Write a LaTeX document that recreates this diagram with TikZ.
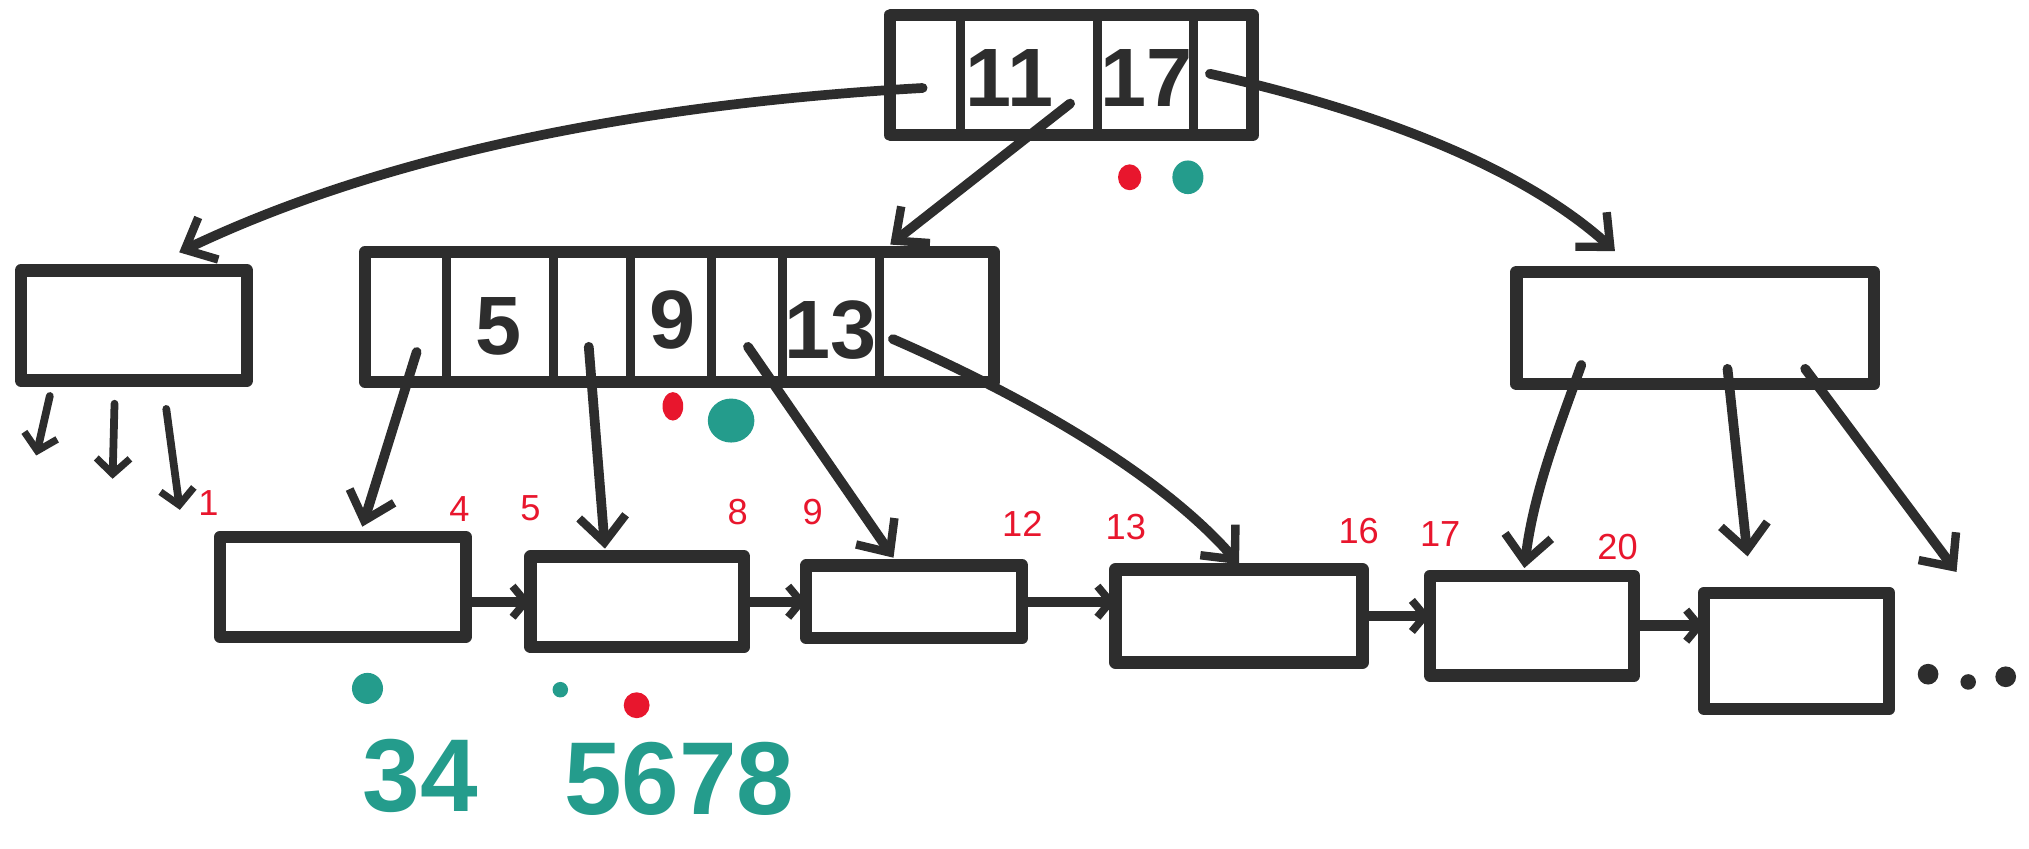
\documentclass[tikz,border=0pt]{standalone}
\usepackage{fontspec}
\setmainfont{Liberation Sans}
\usetikzlibrary{arrows.meta,calc}
\definecolor{ink}{RGB}{45,45,45}
\definecolor{redink}{RGB}{232,22,45}
\definecolor{tealink}{RGB}{36,156,140}
\begin{document}
\begin{tikzpicture}[x=1pt,y=-1pt,
  box/.style={draw=ink,line width=9.5pt,inner sep=0pt,outer sep=0pt,rectangle,line join=round},
  div/.style={draw=ink,line width=7pt},
  arr/.style={draw=ink,line width=7.5pt,line cap=round,-{Straight Barb[length=20pt,width=36pt,line width=6.5pt]}},
  sarr/.style={draw=ink,line width=6pt,line cap=round,-{Straight Barb[length=12pt,width=26pt,line width=5.5pt]}},
  link/.style={draw=ink,line width=8pt,-{Straight Barb[length=10pt,width=24pt,line width=6pt]}},
  key/.style={text=ink,font=\fontsize{64}{68}\selectfont\bfseries,inner sep=0pt},
  lab/.style={text=redink,font=\fontsize{28}{30}\selectfont,inner sep=0pt},
  note/.style={text=tealink,font=\fontsize{80}{84}\selectfont\bfseries,inner sep=0pt},
]
\useasboundingbox (0,0) rectangle (1568,656);

% root
\node[box,minimum width=280pt,minimum height=93pt] (root) at (828,58) {};
\foreach \x in {742,848,922} \draw[div] (\x,0 |- root.north) -- (\x,0 |- root.south);
\node[key] (k11) at (780,60) {11};
\node[key] (k17) at (886,60) {17};
\coordinate (rL) at (713,68);
\coordinate (rM) at (827,80);
\coordinate (rR) at (935,57);

% internal level
\node[box,minimum width=175pt,minimum height=85pt] (left) at (103.5,251.5) {};
\node[box,minimum width=486pt,minimum height=100pt] (mid) at (525,245) {};
\foreach \x in {345,428,487,550,605,680} \draw[div] (\x,0 |- mid.north) -- (\x,0 |- mid.south);
\node[key] (k5) at (385,252) {5};
\node[key] (k9) at (520,247) {9};
\node[key] (k13) at (642,255) {13};
\coordinate (m1) at (322,272);
\coordinate (m2) at (455,268);
\coordinate (m3) at (578,268);
\coordinate (m4) at (690,262);
\node[box,minimum width=276pt,minimum height=87pt] (right) at (1310,253.5) {};
\coordinate (n1) at (1222,282);
\coordinate (n2) at (1335,285);
\coordinate (n3) at (1395,285);
\coordinate (e3) at (1512,442);

% leaves
\node[box,minimum width=190pt,minimum height=77pt] (L1) at (265,453.5) {};
\node[box,minimum width=165pt,minimum height=70pt] (L2) at (492.5,465) {};
\node[box,minimum width=167pt,minimum height=56pt] (L3) at (706.5,465) {};
\node[box,minimum width=191pt,minimum height=72pt] (L4) at (957.5,476) {};
\node[box,minimum width=158pt,minimum height=77pt] (L5) at (1184,483.5) {};
\node[box,minimum width=143pt,minimum height=90pt] (L6) at (1388.5,503) {};

% root pointers
\draw[arr] (rL) .. controls (500,80) and (300,118) .. ([xshift=35pt,yshift=14pt]left.north);
\draw[arr] (rM) -- ([xshift=-80pt,yshift=6pt]mid.north east);
\draw[arr] (rR) .. controls (1060,85) and (1175,128) .. ([xshift=-62pt,yshift=16pt]right.north);

% middle pointers
\draw[arr] (m1) -- ([xshift=15pt,yshift=8pt]L1.north);
\draw[arr] (m2) -- ([xshift=-25pt,yshift=6pt]L2.north);
\draw[arr] (m3) -- ([xshift=-16pt,yshift=6pt]L3.north);
\draw[arr] (m4) .. controls (800,310) and (900,370) .. ([yshift=4pt]L4.north);

% right pointers
\draw[arr] (n1) .. controls (1205,330) and (1185,380) .. ([xshift=-6pt,yshift=6pt]L5.north);
\draw[arr] (n2) -- ([xshift=-38pt,yshift=28pt]L6.north);
\draw[arr] (n3) -- (e3);

% left node pointers
\coordinate (a1) at (28,352);
\coordinate (a2) at (87,370);
\coordinate (a3) at (139,394);
\draw[sarr] ([xshift=-65pt,yshift=-12pt]left.south) -- (a1);
\draw[sarr] ([xshift=-15pt,yshift=-18pt]left.south) -- (a2);
\draw[sarr] ([xshift=25pt,yshift=-22pt]left.south) -- (a3);

% leaf links
\draw[link] (L1.east |- L2.west) -- (L2.west);
\draw[link] (L2.east |- L3.west) -- (L3.west);
\draw[link] (L3.east) -- (L3.east -| L4.west);
\draw[link] (L4.east) -- (L4.east -| L5.west);
\draw[link] (L5.east) -- (L5.east -| L6.west);
\fill[ink] (1490,521) circle (8pt) (1521,527) circle (6pt) (1550,523) circle (8pt);

% red range labels
\node[lab] (r1) at (161,389) {1};
\node[lab] (r4) at (355,393) {4};
\node[lab] (r5) at (410,393) {5};
\node[lab] (r8) at (570,396) {8};
\node[lab] (r9) at (628,396) {9};
\node[lab] (r12) at (790,405) {12};
\node[lab] (r13) at (870,407) {13};
\node[lab] (r16) at (1050,410) {16};
\node[lab] (r17) at (1113,413) {17};
\node[lab] (r20) at (1250,423) {20};

% dots
\fill[redink] (873,137) ellipse (9pt and 10pt);
\fill[tealink] (918,137) ellipse (12pt and 13pt);
\fill[redink] (520,314) ellipse (8pt and 11pt);
\fill[tealink] (565,325) ellipse (18pt and 17pt);
\fill[tealink] (284,532) circle (12pt);
\fill[tealink] (433,533) circle (6pt);
\fill[redink] (492,545) circle (10pt);

% teal notes
\node[note] (t34) at (325,600) {34};
\node[note] (t5678) at (525,602) {5678};
\end{tikzpicture}
\end{document}
